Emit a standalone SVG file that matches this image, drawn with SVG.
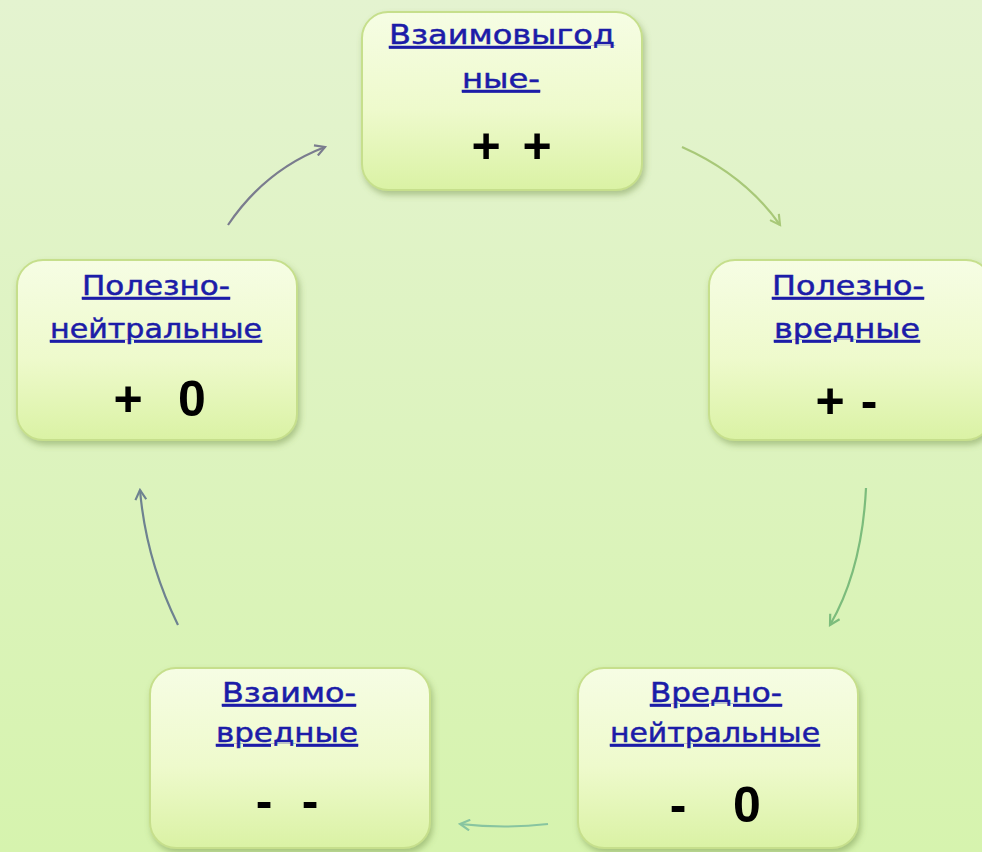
<svg xmlns="http://www.w3.org/2000/svg" width="982" height="852" viewBox="0 0 982 852">
<defs>
  <linearGradient id="bg" x1="0" y1="0" x2="0" y2="1">
    <stop offset="0" stop-color="#e4f3d0"/>
    <stop offset="1" stop-color="#d6f3ae"/>
  </linearGradient>
  <linearGradient id="nodeFill" x1="0" y1="0" x2="0" y2="1">
    <stop offset="0" stop-color="#f6fde4"/>
    <stop offset="0.55" stop-color="#eefacc"/>
    <stop offset="1" stop-color="#daf2a4"/>
  </linearGradient>
  <filter id="shadow" x="-10%" y="-10%" width="125%" height="130%">
    <feDropShadow dx="2" dy="4" stdDeviation="3" flood-color="#6a8a40" flood-opacity="0.45"/>
  </filter>
  <marker id="mGray" viewBox="0 0 12 12" refX="10" refY="6" markerWidth="13" markerHeight="13" markerUnits="userSpaceOnUse" orient="auto">
    <path d="M1,1 L10,6 L1,11" fill="none" stroke="#7a7c8e" stroke-width="2"/>
  </marker>
  <marker id="mLime" viewBox="0 0 12 12" refX="10" refY="6" markerWidth="13" markerHeight="13" markerUnits="userSpaceOnUse" orient="auto">
    <path d="M1,1 L10,6 L1,11" fill="none" stroke="#a8c878" stroke-width="2"/>
  </marker>
  <marker id="mGreen" viewBox="0 0 12 12" refX="10" refY="6" markerWidth="13" markerHeight="13" markerUnits="userSpaceOnUse" orient="auto">
    <path d="M1,1 L10,6 L1,11" fill="none" stroke="#7cbc7c" stroke-width="2"/>
  </marker>
  <marker id="mTeal" viewBox="0 0 12 12" refX="10" refY="6" markerWidth="13" markerHeight="13" markerUnits="userSpaceOnUse" orient="auto">
    <path d="M1,1 L10,6 L1,11" fill="none" stroke="#88c4a0" stroke-width="2"/>
  </marker>
  <marker id="mSlate" viewBox="0 0 12 12" refX="10" refY="6" markerWidth="13" markerHeight="13" markerUnits="userSpaceOnUse" orient="auto">
    <path d="M1,1 L10,6 L1,11" fill="none" stroke="#6e8290" stroke-width="2"/>
  </marker>
</defs>
<style>
  .box { fill: url(#nodeFill); stroke: #c6df8c; stroke-width: 2; filter: url(#shadow); }
  .lbl { font-family: "DejaVu Sans", Verdana, sans-serif; font-size: 27px; fill: #1c1ca8; stroke: #1c1ca8; stroke-width: 0.5; text-anchor: middle; text-decoration: underline; }
  .sign { font-family: "Liberation Sans", Arial, sans-serif; font-size: 50px; font-weight: bold; fill: #000; text-anchor: middle; }
  .conn { fill: none; stroke-width: 2.2; }
</style>
<rect x="0" y="0" width="982" height="852" fill="url(#bg)"/>

<g id="connectors">
  <path class="conn" d="M228,225 Q265,170 325,147" stroke="#7a7c8e" marker-end="url(#mGray)"/>
  <path class="conn" d="M682,147 Q745,175 780,225" stroke="#a8c878" marker-end="url(#mLime)"/>
  <path class="conn" d="M866,488 Q862,570 830,625" stroke="#7cbc7c" marker-end="url(#mGreen)"/>
  <path class="conn" d="M548,824 Q505,829 460,824" stroke="#88c4a0" marker-end="url(#mTeal)"/>
  <path class="conn" d="M178,625 Q146,560 140,490" stroke="#6e8290" marker-end="url(#mSlate)"/>
</g>

<g id="node-top">
  <rect class="box" x="362" y="12" width="280" height="178" rx="26"/>
  <text class="lbl" x="502" y="44" textLength="226" lengthAdjust="spacingAndGlyphs">Взаимовыгод</text>
  <text class="lbl" x="501" y="88" textLength="78" lengthAdjust="spacingAndGlyphs">ные-</text>
  <text class="sign" x="486" y="163">+</text>
  <text class="sign" x="537" y="163">+</text>
</g>

<g id="node-right">
  <rect class="box" x="709" y="260" width="283" height="180" rx="26"/>
  <text class="lbl" x="848" y="295" textLength="152" lengthAdjust="spacingAndGlyphs">Полезно-</text>
  <text class="lbl" x="847" y="338" textLength="146" lengthAdjust="spacingAndGlyphs">вредные</text>
  <text class="sign" x="830" y="418">+</text>
  <text class="sign" x="869" y="418">-</text>
</g>

<g id="node-left">
  <rect class="box" x="17" y="260" width="280" height="180" rx="26"/>
  <text class="lbl" x="156" y="295" textLength="148" lengthAdjust="spacingAndGlyphs">Полезно-</text>
  <text class="lbl" x="156" y="338" textLength="212" lengthAdjust="spacingAndGlyphs">нейтральные</text>
  <text class="sign" x="128" y="416">+</text>
  <text class="sign" x="192" y="416">0</text>
</g>

<g id="node-bottom-left">
  <rect class="box" x="150" y="668" width="280" height="180" rx="26"/>
  <text class="lbl" x="289" y="702" textLength="134" lengthAdjust="spacingAndGlyphs">Взаимо-</text>
  <text class="lbl" x="287" y="742" textLength="142" lengthAdjust="spacingAndGlyphs">вредные</text>
  <text class="sign" x="264" y="818">-</text>
  <text class="sign" x="310" y="818">-</text>
</g>

<g id="node-bottom-right">
  <rect class="box" x="578" y="668" width="280" height="180" rx="26"/>
  <text class="lbl" x="716" y="702" textLength="132" lengthAdjust="spacingAndGlyphs">Вредно-</text>
  <text class="lbl" x="715" y="742" textLength="210" lengthAdjust="spacingAndGlyphs">нейтральные</text>
  <text class="sign" x="678" y="822">-</text>
  <text class="sign" x="747" y="822">0</text>
</g>
</svg>
